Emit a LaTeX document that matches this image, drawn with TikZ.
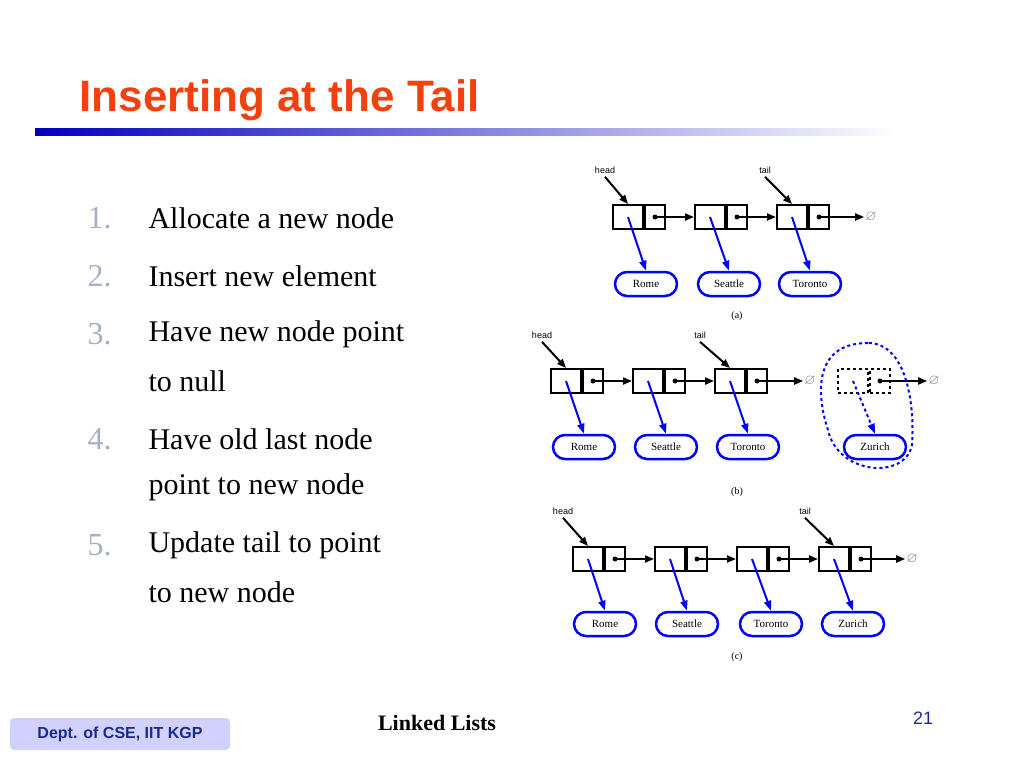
\documentclass[tikz,border=0pt]{standalone}
\usepackage{amssymb}
\usepackage{fontspec}
\setsansfont{Liberation Sans}
\setmainfont{Liberation Serif}
\usetikzlibrary{arrows.meta,positioning,shapes.misc}
\definecolor{titlered}{HTML}{F2400F}
\definecolor{numgray}{HTML}{A8AEC8}
\definecolor{footblue}{HTML}{1A2A8C}
\tikzset{
  elem/.style={draw, line width=2pt, minimum width=30pt, minimum height=24pt, inner sep=0pt},
  nxt/.style={draw, line width=2pt, minimum width=20pt, minimum height=24pt, inner sep=0pt},
  city/.style={draw=blue, line width=2.5pt, rounded rectangle, minimum width=64pt, minimum height=24pt, inner sep=1pt, font=\fontsize{11}{11}\selectfont},
  link/.style={-{Triangle[length=9pt,width=7pt]}, line width=2pt},
  ptr/.style={-{Triangle[length=10pt,width=7pt]}, line width=2pt, blue},
  nullsym/.style={text=gray, font=\Large, inner sep=1pt},
  hdlabel/.style={font=\sffamily\fontsize{9}{9}\selectfont},
  figcap/.style={font=\fontsize{10}{10}\selectfont},
  item/.style={anchor=west, font=\fontsize{30}{30}\selectfont},
  num/.style={anchor=west, text=numgray, font=\fontsize{32}{32}\selectfont}
}
\begin{document}
\begin{tikzpicture}[x=1pt,y=-1pt]
\useasboundingbox (0,0) rectangle (1024,768);

% title and rule
\node[anchor=west, text=titlered, font=\sffamily\bfseries\fontsize{44}{44}\selectfont] (title) at (76,100) {Inserting at the Tail};
\shade[left color=blue!75!black, right color=white] (35,128) rectangle (900,135);

% steps
\foreach \n/\y in {1/218,2/276,3/334,4/439,5/545}
  \node[num] (n\n) at (84,\y) {\n.};
\node[item] (s1) at (145,218) {Allocate a new node};
\node[item] (s2) at (145,276) {Insert new element};
\node[item] (s3) at (145,334) {Have new node point};
\node[item] (s3b) at (145,381) {to null};
\node[item] (s4) at (145,439) {Have old last node};
\node[item] (s4b) at (145,487) {point to new node};
\node[item] (s5) at (145,545) {Update tail to point};
\node[item] (s5b) at (145,592) {to new node};

% (a)
\foreach \i/\x/\c/\cx in {1/628/Rome/646,2/710/Seattle/729,3/792/Toronto/810}{
  \node[elem] (ae\i) at (\x,217) {};
  \node[nxt, right=0pt of ae\i] (an\i) {};
  \node[city] (ac\i) at (\cx,284) {\c};
  \draw[ptr] (ae\i.center) -- (ac\i.north);
  \fill (an\i.center) circle (2.5pt);
}
\node[nullsym] (anull) at (871,217) {$\varnothing$};
\draw[link] (an1.center) -- (ae2);
\draw[link] (an2.center) -- (ae3);
\draw[link] (an3.center) -- (anull);
\node[hdlabel] (ahead) at (605,170) {head};
\node[hdlabel] (atail) at (765,170) {tail};
\draw[link] (ahead.south) -- (ae1.north);
\draw[link] (atail.south) -- (ae3.north);
\node[figcap] (acap) at (737,316) {(a)};

% (b)
\foreach \i/\x/\c/\cx in {1/566/Rome/584,2/648/Seattle/666,3/730/Toronto/748}{
  \node[elem] (be\i) at (\x,381) {};
  \node[nxt, right=0pt of be\i] (bn\i) {};
  \node[city] (bc\i) at (\cx,447) {\c};
  \draw[ptr] (be\i.center) -- (bc\i.north);
  \fill (bn\i.center) circle (2.5pt);
}
\node[nullsym] (bnull) at (810,381) {$\varnothing$};
\draw[link] (bn1.center) -- (be2);
\draw[link] (bn2.center) -- (be3);
\draw[link] (bn3.center) -- (bnull);
\node[elem, dashed] (be4) at (853,381) {};
\node[nxt, dashed, right=0pt of be4] (bn4) {};
\node[city] (bc4) at (875,447) {Zurich};
\draw[ptr, dashed] (be4.center) -- (bc4.north);
\fill (bn4.center) circle (2.5pt);
\node[nullsym] (bnull2) at (934,381) {$\varnothing$};
\draw[link] (bn4.center) -- (bnull2);
\draw[blue, dashed, line width=2pt] (868,343) .. controls (810,343) and (818,400) .. (828,430)
  .. controls (838,475) and (905,480) .. (912,445) .. controls (915,400) and (905,343) .. (868,343);
\node[hdlabel] (bhead) at (542,335) {head};
\node[hdlabel] (btail) at (700,335) {tail};
\draw[link] (bhead.south) -- (be1.north);
\draw[link] (btail.south) -- (be3.north);
\node[figcap] (bcap) at (737,492) {(b)};

% (c)
\foreach \i/\x/\c/\cx in {1/588/Rome/605,2/670/Seattle/687,3/752/Toronto/771,4/834/Zurich/853}{
  \node[elem] (ce\i) at (\x,559) {};
  \node[nxt, right=0pt of ce\i] (cn\i) {};
  \node[city] (cc\i) at (\cx,624) {\c};
  \draw[ptr] (ce\i.center) -- (cc\i.north);
  \fill (cn\i.center) circle (2.5pt);
}
\node[nullsym] (cnull) at (912,559) {$\varnothing$};
\draw[link] (cn1.center) -- (ce2);
\draw[link] (cn2.center) -- (ce3);
\draw[link] (cn3.center) -- (ce4);
\draw[link] (cn4.center) -- (cnull);
\node[hdlabel] (chead) at (563,511) {head};
\node[hdlabel] (ctail) at (805,511) {tail};
\draw[link] (chead.south) -- (ce1.north);
\draw[link] (ctail.south) -- (ce4.north);
\node[figcap] (ccap) at (737,657) {(c)};

% footer
\node[fill=blue!18, rounded corners=4pt, minimum width=220pt, minimum height=32pt, text=footblue, font=\sffamily\bfseries\fontsize{16}{16}\selectfont] (dept) at (120,734) {Dept. of CSE, IIT KGP};
\node[font=\bfseries\fontsize{22}{22}\selectfont] (topic) at (437,723) {Linked Lists};
\node[text=footblue, font=\sffamily\fontsize{18}{18}\selectfont] (page) at (923,718) {21};
\end{tikzpicture}
\end{document}
